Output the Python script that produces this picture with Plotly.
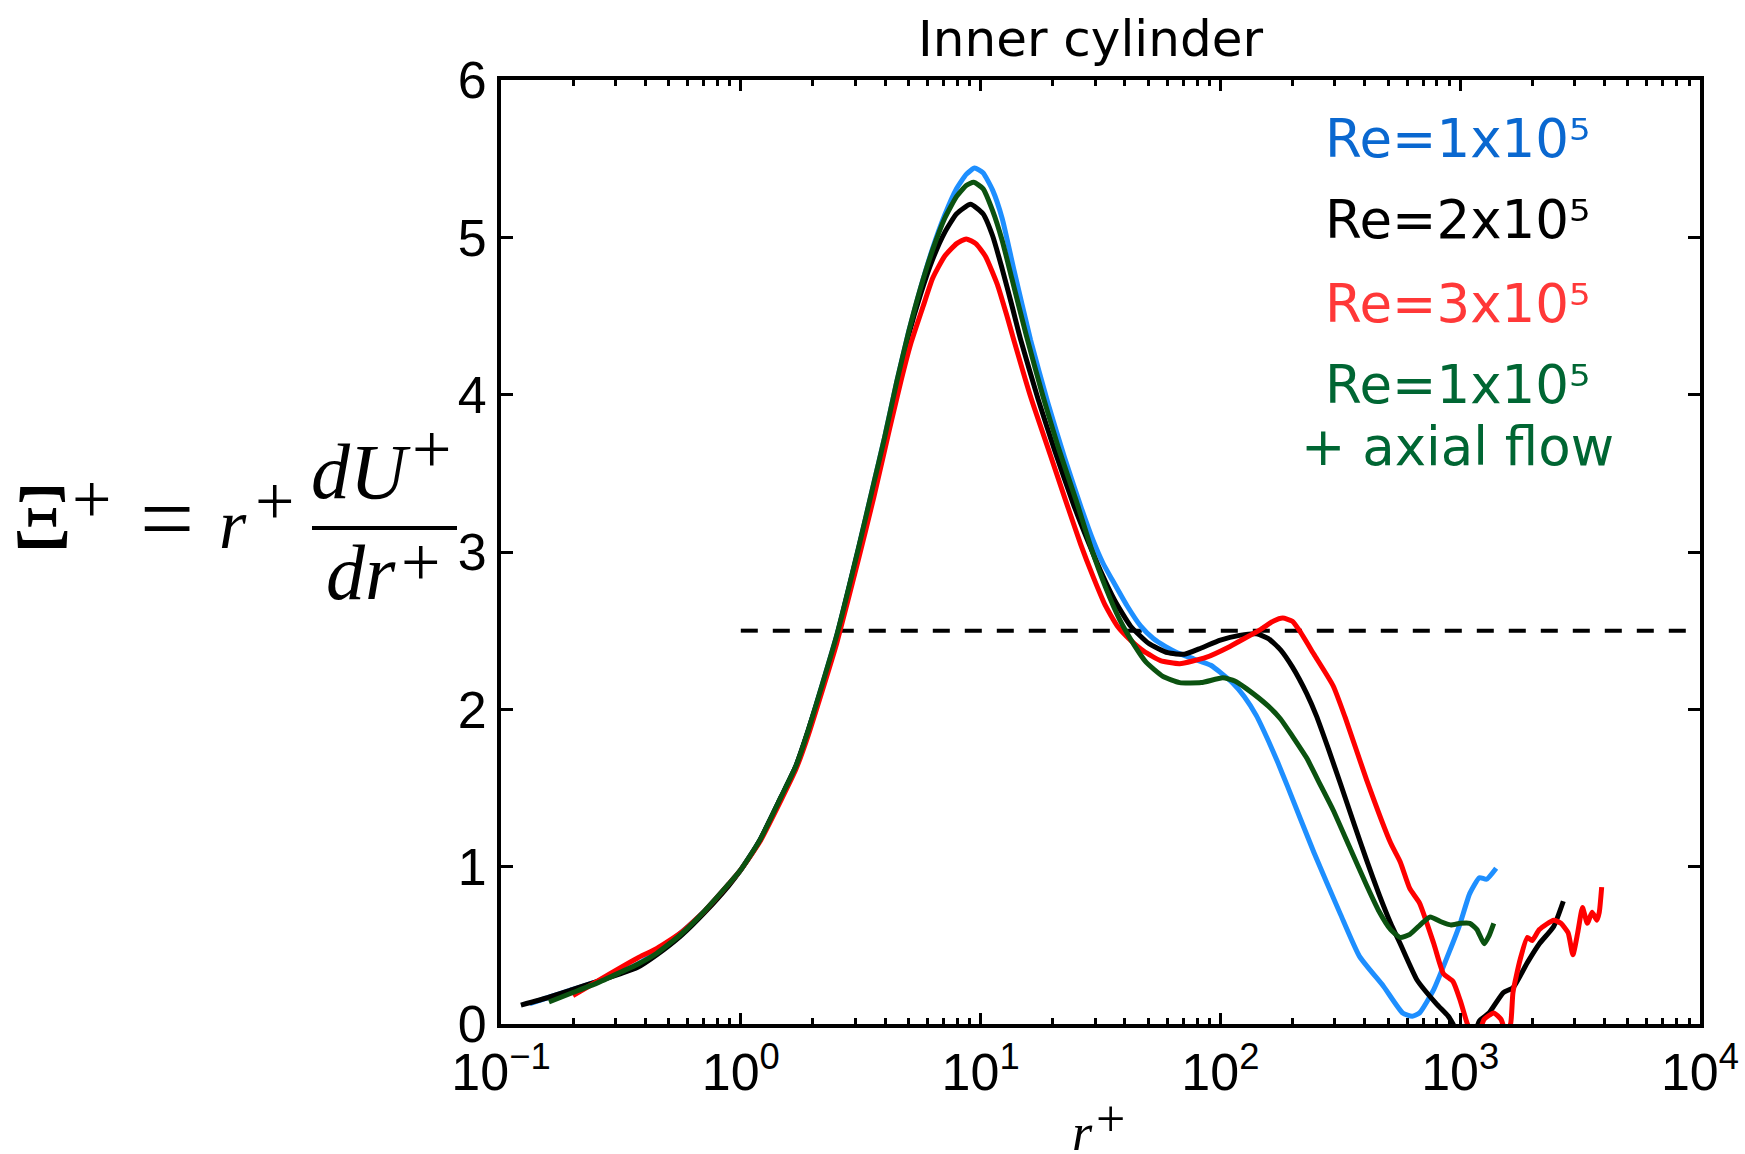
import plotly.graph_objects as go

# ---- data: Xi+ = r+ dU+/dr+ versus r+ (inner cylinder) ----
# each series stored as log10(r+) and Xi+ values
log_r_re1 = [-0.88, -0.80, -0.70, -0.60, -0.50, -0.43, -0.35, -0.25, -0.15, -0.05, 0.0, 0.08, 0.167, 0.23, 0.28,
             0.34, 0.40, 0.49, 0.555, 0.60, 0.65, 0.70, 0.75, 0.80, 0.85, 0.90, 0.94, 0.975, 1.01, 1.05, 1.09,
             1.138, 1.208, 1.28, 1.35, 1.42, 1.47, 1.51, 1.55, 1.61, 1.667, 1.72, 1.77, 1.82, 1.89, 1.96,
             2.05, 2.10, 2.15, 2.20, 2.24, 2.28, 2.39, 2.50, 2.58, 2.68, 2.76, 2.80, 2.83, 2.89, 2.96, 3.00,
             3.04, 3.08, 3.11, 3.15]
xi_re1 = [0.13, 0.17, 0.22, 0.27, 0.33, 0.38, 0.46, 0.58, 0.72, 0.89, 0.98, 1.17, 1.44, 1.64, 1.86,
          2.16, 2.47, 3.02, 3.44, 3.73, 4.08, 4.40, 4.68, 4.93, 5.14, 5.31, 5.40, 5.44, 5.41, 5.30, 5.12,
          4.80, 4.35, 3.95, 3.60, 3.28, 3.07, 2.93, 2.82, 2.66, 2.53, 2.45, 2.40, 2.36, 2.32, 2.28,
          2.17, 2.08, 1.96, 1.80, 1.66, 1.51, 1.09, 0.70, 0.43, 0.24, 0.07, 0.05, 0.07, 0.22, 0.48, 0.64,
          0.83, 0.93, 0.92, 0.99]

log_r_re2 = [-0.917, -0.80, -0.70, -0.60, -0.50, -0.43, -0.35, -0.25, -0.15, -0.05, 0.0, 0.08, 0.167, 0.23, 0.28,
             0.34, 0.40, 0.49, 0.555, 0.60, 0.65, 0.70, 0.75, 0.80, 0.85, 0.90, 0.958, 1.01, 1.05, 1.09, 1.13,
             1.167, 1.24, 1.31, 1.388, 1.45, 1.50, 1.56, 1.625, 1.70, 1.78, 1.85, 1.92, 2.00, 2.08, 2.15,
             2.20, 2.25, 2.30, 2.36, 2.40, 2.45, 2.50, 2.56, 2.61, 2.66, 2.71, 2.75, 2.82, 2.90, 2.95, 2.97,
             3.00, 3.05, 3.08, 3.12, 3.18, 3.22, 3.28, 3.33, 3.39, 3.43]
xi_re2 = [0.12, 0.17, 0.22, 0.27, 0.32, 0.36, 0.44, 0.56, 0.71, 0.88, 0.98, 1.17, 1.44, 1.64, 1.86,
          2.15, 2.46, 3.01, 3.42, 3.70, 4.06, 4.38, 4.64, 4.86, 5.03, 5.15, 5.21, 5.15, 5.01, 4.80, 4.57,
          4.35, 3.97, 3.64, 3.30, 3.06, 2.88, 2.69, 2.53, 2.42, 2.36, 2.35, 2.39, 2.44, 2.47, 2.48,
          2.45, 2.38, 2.27, 2.10, 1.96, 1.75, 1.53, 1.26, 1.04, 0.83, 0.64, 0.51, 0.28, 0.13, 0.05, 0.0,
          -0.10, -0.10, 0.02, 0.07, 0.20, 0.23, 0.39, 0.51, 0.62, 0.78]

log_r_re3 = [-0.70, -0.60, -0.50, -0.43, -0.35, -0.25, -0.15, -0.05, 0.0, 0.08, 0.167, 0.23, 0.28, 0.34,
             0.40, 0.49, 0.555, 0.62, 0.67, 0.708, 0.76, 0.80, 0.85, 0.90, 0.94, 0.98, 1.02, 1.07, 1.11,
             1.138, 1.21, 1.29, 1.354, 1.417, 1.47, 1.52, 1.57, 1.625, 1.68, 1.75, 1.83, 1.94, 2.04, 2.10,
             2.17, 2.22, 2.26, 2.30, 2.33, 2.39, 2.47, 2.52, 2.61, 2.71, 2.75, 2.79, 2.83, 2.89, 2.93,
             2.97, 3.00, 3.03, 3.06, 3.08, 3.10, 3.14, 3.17, 3.19, 3.21, 3.22, 3.25, 3.28, 3.30, 3.33,
             3.39, 3.42, 3.45, 3.47, 3.49, 3.51, 3.53, 3.55, 3.57, 3.58, 3.59]
xi_re3 = [0.18, 0.27, 0.36, 0.42, 0.48, 0.58, 0.72, 0.89, 0.98, 1.16, 1.42, 1.62, 1.83, 2.12,
          2.42, 2.95, 3.35, 3.78, 4.10, 4.32, 4.56, 4.74, 4.88, 4.96, 4.99, 4.96, 4.88, 4.70, 4.50,
          4.35, 3.98, 3.62, 3.33, 3.05, 2.84, 2.66, 2.53, 2.44, 2.37, 2.31, 2.29, 2.33, 2.40, 2.45,
          2.51, 2.56, 2.58, 2.56, 2.50, 2.35, 2.15, 1.95, 1.55, 1.15, 1.03, 0.86, 0.77, 0.51, 0.32,
          0.27, 0.15, 0.0, -0.10, -0.05, 0.03, 0.07, 0.03, -0.05, 0.0, 0.20, 0.41, 0.55, 0.53, 0.60,
          0.66, 0.64, 0.58, 0.44, 0.58, 0.74, 0.64, 0.71, 0.66, 0.71, 0.87]

log_r_axial = [-0.80, -0.70, -0.60, -0.50, -0.43, -0.35, -0.25, -0.15, -0.05, 0.0, 0.08, 0.167, 0.23, 0.28,
               0.34, 0.40, 0.49, 0.555, 0.60, 0.65, 0.70, 0.75, 0.80, 0.85, 0.90, 0.94, 0.971, 1.01, 1.05,
               1.09, 1.13, 1.19, 1.26, 1.325, 1.40, 1.46, 1.52, 1.58, 1.64, 1.69, 1.76, 1.83, 1.92, 2.01,
               2.06, 2.11, 2.20, 2.25, 2.30, 2.36, 2.42, 2.47, 2.54, 2.61, 2.66, 2.71, 2.75, 2.79, 2.84,
               2.875, 2.92, 2.96, 3.00, 3.04, 3.07, 3.10, 3.12, 3.14]
xi_axial = [0.14, 0.20, 0.26, 0.33, 0.38, 0.45, 0.57, 0.72, 0.89, 0.98, 1.17, 1.44, 1.64, 1.86,
            2.16, 2.47, 3.02, 3.44, 3.73, 4.08, 4.40, 4.68, 4.92, 5.12, 5.26, 5.33, 5.35, 5.31, 5.17,
            4.98, 4.74, 4.38, 3.99, 3.66, 3.32, 3.03, 2.78, 2.57, 2.41, 2.30, 2.21, 2.17, 2.17, 2.20,
            2.18, 2.13, 2.02, 1.94, 1.83, 1.69, 1.51, 1.36, 1.12, 0.88, 0.72, 0.60, 0.55, 0.57, 0.64,
            0.68, 0.65, 0.63, 0.64, 0.64, 0.60, 0.51, 0.56, 0.64]

# horizontal reference level
ref_level = 2.5
ref_r = [1, 1e4]

x_tick_vals = [1e-1, 1e0, 1e1, 1e2, 1e3, 1e4]
x_tick_text = ["10<sup>−1</sup>", "10<sup>0</sup>", "10<sup>1</sup>", "10<sup>2</sup>",
               "10<sup>3</sup>", "10<sup>4</sup>"]
y_tick_vals = [0, 1, 2, 3, 4, 5, 6]

series = [
    ("Re=1x10⁵", log_r_re1, xi_re1, "#1e8fff"),
    ("Re=2x10⁵", log_r_re2, xi_re2, "#000000"),
    ("Re=3x10⁵", log_r_re3, xi_re3, "#ff0000"),
    ("Re=1x10⁵ + axial flow", log_r_axial, xi_axial, "#0b5210"),
]

W, H = 1745, 1154
L, R, T, B = 501, 45, 80, 130
PW, PH = W - L - R, H - T - B


def px(x):
    return (x - L) / PW


def py(y):
    return (H - B - y) / PH


fig = go.Figure()

fig.add_trace(go.Scatter(x=ref_r, y=[ref_level, ref_level], mode="lines",
                         line=dict(color="black", width=4, dash="17px,15px"),
                         showlegend=False, hoverinfo="skip"))

for name, lr, xi, lc in series:
    fig.add_trace(go.Scatter(
        x=[10 ** v for v in lr], y=xi, mode="lines", name=name,
        line=dict(color=lc, width=5, shape="spline", smoothing=0.5),
        showlegend=False))

minor_vals = [k * 10 ** p for p in range(-1, 4) for k in range(2, 10)]

fig.update_xaxes(type="log", range=[-1, 4], showgrid=False, zeroline=False,
                 showline=True, linecolor="black", linewidth=4, mirror="ticks",
                 ticks="inside", ticklen=11, tickwidth=3, tickcolor="black",
                 tickmode="array", tickvals=x_tick_vals, ticktext=x_tick_text,
                 tickfont=dict(family="Liberation Sans", size=52, color="black"),
                 minor=dict(ticks="inside", ticklen=6, tickwidth=3, tickcolor="black",
                            tickmode="array", tickvals=minor_vals, showgrid=False))
fig.update_yaxes(range=[0, 6], showgrid=False, zeroline=False,
                 showline=True, linecolor="black", linewidth=4, mirror="ticks",
                 ticks="inside", ticklen=12, tickwidth=3, tickcolor="black",
                 tickmode="array", tickvals=y_tick_vals,
                 tickfont=dict(family="Liberation Sans", size=52, color="black"))

annotations = []


def text_at(text, x, baseline, size, family, color="black", asc=0.3375):
    # place a text run by its horizontal centre and baseline (pixels)
    annotations.append(dict(
        text=text, xref="paper", yref="paper", x=px(x), y=py(baseline - asc * size),
        xanchor="center", yanchor="middle", showarrow=False,
        font=dict(family=family, size=size, color=color)))


# title
text_at("Inner cylinder", 1090, 56, 50, "DejaVu Sans", asc=0.346)

# series labels
text_at("Re=1x10⁵", 1457, 157, 53, "DejaVu Sans", "#0a68d0", asc=0.346)
text_at("Re=2x10⁵", 1457, 238, 53, "DejaVu Sans", "#000000", asc=0.346)
text_at("Re=3x10⁵", 1457, 322, 53, "DejaVu Sans", "#ff3838", asc=0.346)
text_at("Re=1x10⁵", 1457, 403, 53, "DejaVu Sans", "#006633", asc=0.346)
text_at("+ axial flow", 1457, 465, 53, "DejaVu Sans", "#006633", asc=0.346)

# y-axis label:  Xi+ = r+ dU+/dr+
serif = "Liberation Serif"
text_at("Ξ", 42, 548, 94, serif)
text_at("+", 92, 523, 70, serif)
text_at("=", 167, 551, 96, serif)
text_at("<i>r</i>", 233, 548, 70, serif)
text_at("+", 274, 525, 70, serif)
text_at("<i>dU</i>", 361, 498, 78, serif)
text_at("+", 431, 473, 70, serif)
text_at("<i>dr</i>", 361, 599, 78, serif)
text_at("+", 420, 586, 70, serif)

# x-axis label: r+
text_at("<i>r</i>", 1082, 1150, 52, serif)
text_at("+", 1110, 1136, 52, serif)

fig.update_layout(
    width=W, height=H,
    margin=dict(l=L, r=R, t=T, b=B, autoexpand=False),
    plot_bgcolor="white", paper_bgcolor="white",
    annotations=annotations,
    shapes=[dict(type="line", xref="paper", yref="paper",
                 x0=px(312), x1=px(457), y0=py(528), y1=py(528),
                 line=dict(color="black", width=4))],
)

fig.write_html("out.html")
